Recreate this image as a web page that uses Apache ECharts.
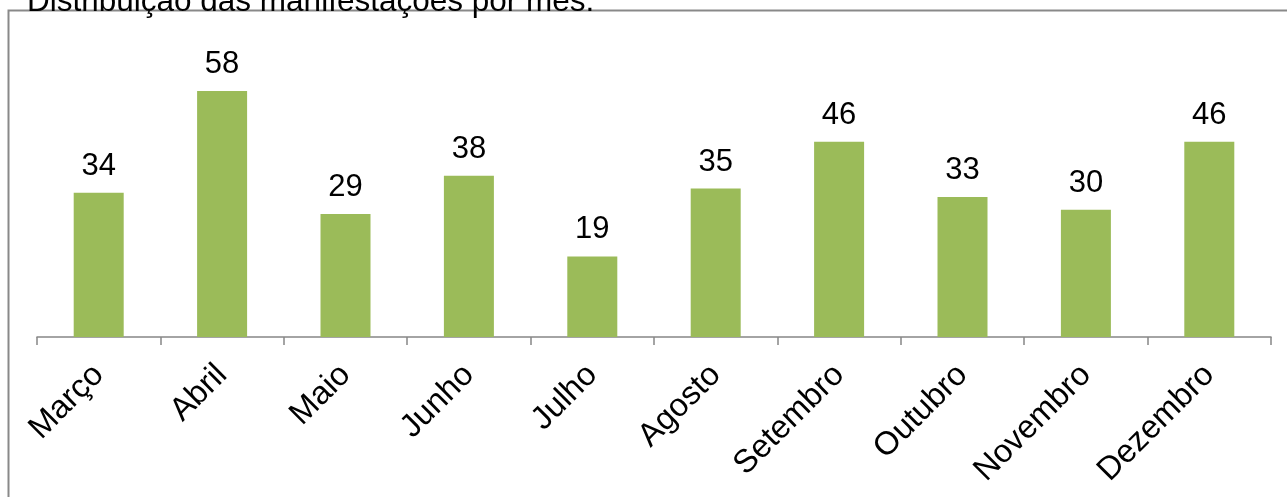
<!DOCTYPE html>
<html>
<head>
<meta charset="utf-8">
<script src="https://cdn.jsdelivr.net/npm/echarts@6/dist/echarts.min.js"></script>
<style>
html,body{margin:0;padding:0;background:#fff;}
#chart{width:1287px;height:497px;}
</style>
</head>
<body>
<div id="chart"></div>
<script>
const titleText = "Distribuição das manifestações por mês:";
const categories = ["Março","Abril","Maio","Junho","Julho","Agosto","Setembro","Outubro","Novembro","Dezembro"];
const values = [34,58,29,38,19,35,46,33,30,46];

const FONT = "'Liberation Sans', Arial, sans-serif";
const chart = echarts.init(document.getElementById('chart'), null, {renderer:'canvas'});
chart.setOption({
  backgroundColor: '#ffffff',
  animation: false,
  title: {
    text: titleText,
    left: 22,
    top: -19,
    textStyle: {fontFamily: FONT, fontSize: 31.5, fontWeight: 'normal', color: '#000'}
  },
  graphic: [{
    type: 'rect',
    shape: {x: 8.5, y: 10.5, width: 1400, height: 600},
    style: {fill: 'none', stroke: '#898989', lineWidth: 2},
    silent: true,
    z: -1
  }],
  grid: {left: 37, right: 16, top: 40, bottom: 160, containLabel: false},
  xAxis: {
    type: 'category',
    data: categories,
    boundaryGap: true,
    axisLine: {lineStyle: {color: '#868686', width: 1.5}},
    axisTick: {show: true, length: 8, lineStyle: {color: '#868686', width: 1.5}},
    axisLabel: {rotate: 45, margin: 33, fontFamily: FONT, fontSize: 32.5, color: '#000', interval: 0}
  },
  yAxis: {
    type: 'value',
    min: 0, max: 70,
    show: false,
    splitLine: {show: false}
  },
  series: [{
    type: 'bar',
    data: values,
    barWidth: 50,
    itemStyle: {color: '#9BBB59'},
    label: {show: true, position: 'top', distance: 11, fontFamily: FONT, fontSize: 31, color: '#000'}
  }]
});
</script>
</body>
</html>
